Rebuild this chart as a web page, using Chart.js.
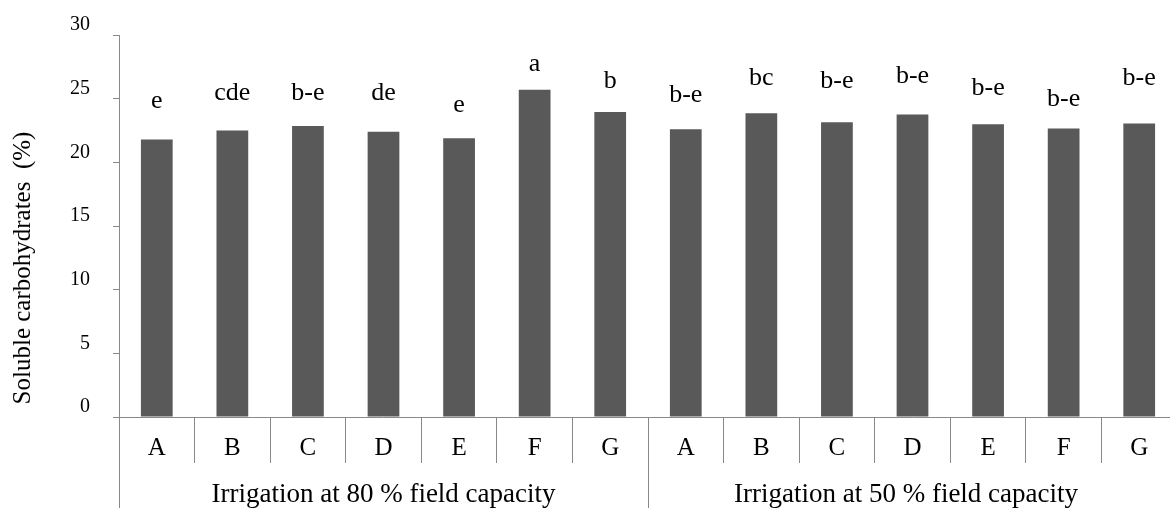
<!DOCTYPE html>
<html>
<head>
<meta charset="utf-8">
<script src="https://cdn.jsdelivr.net/npm/chart.js@4.4.1/dist/chart.umd.min.js"></script>
<style>
  html, body { margin: 0; padding: 0; background: #ffffff; overflow: hidden; }
  #wrap { width: 1177px; height: 508px; }
</style>
</head>
<body>
<div id="wrap"><canvas id="c" width="1177" height="508"></canvas></div>
<script>
// ---- data ----
const categories = ["A", "B", "C", "D", "E", "F", "G", "A", "B", "C", "D", "E", "F", "G"];
const groupNames = ["Irrigation at 80 % field capacity", "Irrigation at 50 % field capacity"];
const groupSizes = [7, 7];
const values = [21.8, 22.5, 22.85, 22.4, 21.9, 25.7, 23.95, 22.6, 23.85, 23.15, 23.75, 23.0, 22.65, 23.05];
const letters = ["e", "cde", "b-e", "de", "e", "a", "b", "b-e", "bc", "b-e", "b-e", "b-e", "b-e", "b-e"];
const letterLevels = [24.25, 24.9, 24.9, 24.9, 23.95, 27.15, 25.85, 24.75, 26.1, 25.8, 26.25, 25.3, 24.4, 26.05];
const yTicks = [0, 5, 10, 15, 20, 25, 30];
const yTitle = "Soluble carbohydrates  (%)";

const AXIS = "#898989";
const SERIF = "'Liberation Serif', 'Times New Roman', serif";

const extras = {
  id: "extras",
  afterDraw(chart) {
    const ctx = chart.ctx;
    const x = chart.scales.x, y = chart.scales.y;
    ctx.save();
    // letters above bars
    ctx.fillStyle = "#000";
    ctx.font = "26px " + SERIF;
    ctx.textAlign = "center";
    ctx.textBaseline = "alphabetic";
    letters.forEach((t, i) => {
      ctx.fillText(t, x.getPixelForValue(i), y.getPixelForValue(letterLevels[i]));
    });
    // long separators (axis line and group separators)
    ctx.strokeStyle = AXIS;
    ctx.lineWidth = 1;
    let idx = 0;
    const bottom = chart.height;
    const half = (x.getPixelForValue(1) - x.getPixelForValue(0)) / 2;
    const edges = [];
    groupSizes.forEach((n) => {
      edges.push([x.getPixelForValue(idx) - half, x.getPixelForValue(idx + n - 1) + half]);
      idx += n;
    });
    edges.forEach(([l]) => {
      const px = Math.round(l) + 0.5;
      ctx.beginPath();
      ctx.moveTo(px, y.bottom);
      ctx.lineTo(px, bottom);
      ctx.stroke();
    });
    // group labels
    ctx.font = "27px " + SERIF;
    ctx.fillStyle = "#000";
    ctx.textBaseline = "alphabetic";
    edges.forEach(([l, r], g) => {
      const rr = Math.min(r, 1164);
      ctx.fillText(groupNames[g], (l + rr) / 2, 502);
    });
    // y title
    ctx.save();
    ctx.translate(23, 268);
    ctx.rotate(-Math.PI / 2);
    ctx.textAlign = "center";
    ctx.textBaseline = "middle";
    ctx.font = "25px " + SERIF;
    ctx.fillText(yTitle, 0, 0);
    ctx.restore();
    ctx.restore();
  }
};

new Chart(document.getElementById("c"), {
  type: "bar",
  data: {
    labels: categories,
    datasets: [{
      data: values,
      backgroundColor: "#595959",
      borderWidth: 0,
      barPercentage: 0.42,
      categoryPercentage: 1.0
    }]
  },
  options: {
    responsive: false,
    animation: false,
    devicePixelRatio: 1,
    layout: { padding: { top: 29, left: 0, right: 0, bottom: 0 } },
    plugins: { legend: { display: false }, tooltip: { enabled: false } },
    scales: {
      x: {
        offset: true,
        grid: { offset: true, drawOnChartArea: false, drawTicks: true, tickLength: 46, color: AXIS, lineWidth: 1 },
        border: { color: AXIS, width: 1 },
        ticks: { color: "#000", font: { family: SERIF, size: 25 }, padding: -30, maxRotation: 0, autoSkip: false },
        afterFit(s) { s.height = 91; }
      },
      y: {
        min: 0, max: 30,
        afterBuildTicks(s) { s.ticks = yTicks.map(v => ({ value: v })); },
        grid: { drawOnChartArea: false, drawTicks: true, tickLength: 6, color: AXIS, lineWidth: 1 },
        border: { color: AXIS, width: 1 },
        ticks: { color: "#000", font: { family: SERIF, size: 20 }, padding: 23, labelOffset: -10 },
        afterFit(s) { s.width = 119; }
      }
    }
  },
  plugins: [extras]
});
</script>
</body>
</html>
